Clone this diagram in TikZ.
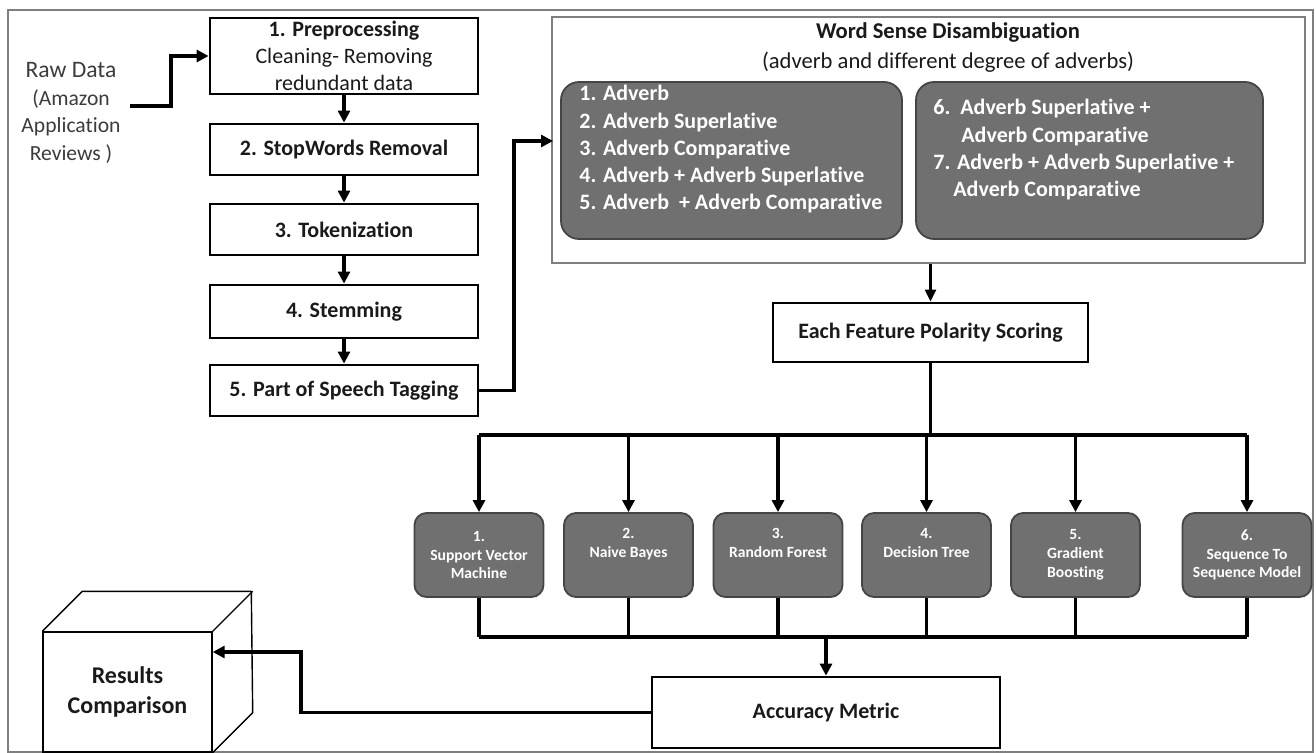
\documentclass[tikz,border=0pt]{standalone}
\usepackage{fontspec}
\setmainfont{Carlito}[Ligatures=NoCommon]
\usetikzlibrary{arrows.meta,calc}
\definecolor{gfill}{HTML}{707070}
\definecolor{gline}{HTML}{454545}
\definecolor{framec}{HTML}{7F7F7F}
\definecolor{txt}{HTML}{1A1A1A}
\begin{document}
\begin{tikzpicture}[x=0.5pt,y=-0.5pt,
  box/.style={draw, line width=1.4pt, inner sep=0pt, align=center, text=txt,
    font=\bfseries\fontsize{11}{13}\selectfont},
  gbox/.style={draw=gline, fill=gfill, line width=0.9pt, rounded corners=9pt},
  gtext/.style={inner sep=0pt, align=left, text=white,
    font=\bfseries\fontsize{11}{13.6}\selectfont},
  mbox/.style={draw=gline, fill=gfill, line width=0.9pt, rounded corners=6pt,
    minimum width=64.5pt, minimum height=42pt, inner sep=0pt, align=center,
    text=white, font=\bfseries\fontsize{7.8}{9.4}\selectfont},
  line/.style={line width=1.9pt},
  conn/.style={line width=1.9pt, -{Triangle[length=6pt,width=6pt]}},
  thinconn/.style={line width=1.1pt, -{Triangle[length=6pt,width=5.5pt]}}]
\useasboundingbox (0,0) rectangle (1316,753);
\draw[framec, line width=0.8pt] (8,10) rectangle (1313,752);

% raw data
\node[inner sep=0pt, align=center, text=txt!85, font=\fontsize{10.8}{13.8}\selectfont] (raw) at (71,113)
  {{\fontsize{11.8}{13.8}\selectfont Raw Data}\\(Amazon\\Application\\Reviews )};

% left column
\node[box, minimum width=134pt, minimum height=38pt, font=\bfseries\fontsize{11}{13.5}\selectfont] (pre) at (344,56)
  {1. Preprocessing\\{\mdseries Cleaning- Removing}\\{\mdseries redundant data}};
\node[box, minimum width=134pt, minimum height=25.5pt] (stop) at (344,149.5) {2. StopWords Removal};
\node[box, minimum width=134pt, minimum height=25.5pt] (tok) at (344,229.5) {3. Tokenization};
\node[box, minimum width=134pt, minimum height=26.5pt] (stem) at (344,311.5) {4. Stemming};
\node[box, minimum width=134pt, minimum height=25.5pt] (pos) at (344,390.5) {5. Part of Speech Tagging};

\coordinate (r1) at (130,106);
\draw[conn] (r1) -- ++(41,0) |- (pre.west);
\draw[conn] (pre) -- (stop);
\draw[conn] (stop) -- (tok);
\draw[conn] (tok) -- (stem);
\draw[conn] (stem) -- (pos);

% WSD
\node[draw=framec, line width=0.9pt, minimum width=376.5pt, minimum height=123pt, inner sep=0pt] (wsd) at (928.5,140) {};
\node[inner sep=0pt, align=center, text=txt, font=\fontsize{11.3}{15}\selectfont] (wsdt) at (948,48)
  {\textbf{Word Sense Disambiguation}\\(adverb and different degree of adverbs)};
\node[gbox, minimum width=170.5pt, minimum height=78.5pt, inner sep=0pt] (adv1) at (731.5,160.5) {};
\node[gbox, minimum width=173.5pt, minimum height=78.5pt, inner sep=0pt] (adv2) at (1089.5,160.5) {};
\node[gtext, anchor=north west] (adv1t) at (579,85)
  {1. Adverb\\2. Adverb Superlative\\3. Adverb Comparative\\4. Adverb + Adverb Superlative\\5. Adverb \ + Adverb Comparative};
\node[gtext, anchor=north west] (adv2t) at (933,99)
  {6.\ \ Adverb Superlative +\\\hspace*{14pt}Adverb Comparative\\7. Adverb + Adverb Superlative +\\\hspace*{10pt}Adverb Comparative};

\coordinate (w1) at (553,141);
\coordinate (k) at (514,0);
\draw[conn] (pos.east) -- (pos.east -| k) |- (w1);

% polarity
\node[box, minimum width=157.5pt, minimum height=29.5pt] (feat) at (930.5,332.5) {Each Feature Polarity Scoring};
\draw[thinconn] (wsd.south -| feat.north) -- (feat.north);

% models
\node[mbox] (m1) at (479,555) {1.\\Support Vector\\Machine};
\node[mbox] (m2) at (628.5,555) {2.\\Naive Bayes\\\strut};
\node[mbox] (m3) at (778,555) {3.\\Random Forest\\\strut};
\node[mbox] (m4) at (926.5,555) {4.\\Decision Tree\\\strut};
\node[mbox] (m5) at (1075.5,555) {5.\\Gradient\\Boosting};
\node[mbox] (m6) at (1247,555) {6.\\Sequence To\\Sequence Model};

\coordinate (busT) at (0,435);
\coordinate (busB) at (0,637);
\draw[line] (feat.south) -- (feat.south |- busT);
\draw[line] (m1 |- busT) -- (m6 |- busT);
\foreach \m in {m1,m2,m3,m4,m5,m6}{
  \draw[conn] (\m |- busT) -- (\m.north);
  \draw[line] (\m.south) -- (\m |- busB);
}
\draw[line] (m1 |- busB) -- (m6 |- busB);

% accuracy
\node[box, minimum width=174pt, minimum height=35.5pt] (acc) at (826,712.5) {Accuracy Metric};
\draw[conn] (acc.north |- busB) -- (acc.north);

% cube
\node[draw, line width=0.7pt, minimum width=84.5pt, minimum height=60pt, inner sep=0pt, align=center, text=txt,
  font=\bfseries\fontsize{12}{15}\selectfont] (res) at (127.5,692) {Results\\Comparison};
\draw[line width=0.7pt, line join=round] (res.north west) -- ++(40,-40) -- ++(169,0) -- ($(res.south east)+(40,-40)$) -- (res.south east);
\draw[line width=0.7pt] (res.north east) -- ++(40,-40);

\coordinate (c1) at (301,652);
\draw[conn] (acc.west) -- (acc.west -| c1) -- (c1) -- (res.east |- c1);
\end{tikzpicture}
\end{document}
